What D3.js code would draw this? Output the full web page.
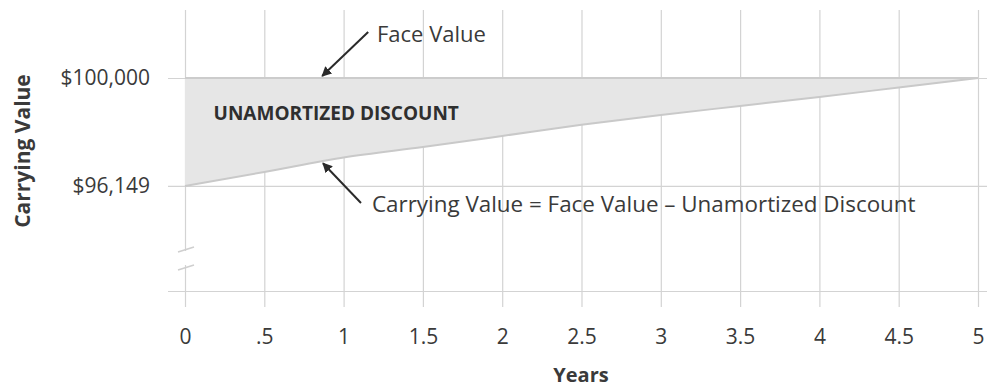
<!DOCTYPE html>
<html>
<head>
<meta charset="utf-8">
<script src="https://cdn.jsdelivr.net/npm/d3@7"></script>
<style>
  html, body { margin: 0; padding: 0; background: #fff; }
  svg { display: block; font-family: "Open Sans", "Noto Sans", sans-serif; }
</style>
</head>
<body>
<svg id="chart" width="987" height="389"></svg>
<script>
// Carrying value of the bond over its life (years, dollars)
const years = [0, 0.5, 1, 1.5, 2, 2.5, 3, 3.5, 4, 4.5, 5];
const faceValue = [100000, 100000, 100000, 100000, 100000, 100000, 100000, 100000, 100000, 100000, 100000];
const carryingValue = [96149, 96648, 97165, 97540, 97932, 98330, 98681, 99002, 99323, 99661, 100000];
const xTicks = [0, 0.5, 1, 1.5, 2, 2.5, 3, 3.5, 4, 4.5, 5];
const yTicks = [100000, 96149];
const axisFloor = 92400;   // value at the broken baseline

const svg = d3.select("#chart");
const W = 987;

const x = d3.scaleLinear().domain([0, 5]).range([185, 978]);
const y = d3.scaleLinear().domain([axisFloor, 100000]).range([291, 78]);

const gridColor = "#d3d3d3";
const textColor = "#3a3a3a";

// vertical grid + year labels
const xAxis = d3.axisBottom(x)
  .tickValues(xTicks)
  .tickSizeInner(-297)
  .tickSizeOuter(0)
  .tickPadding(22)
  .tickFormat(d => d === 0 ? "0" : (d < 1 ? d3.format(".1f")(d).replace(/^0/, "") : String(d)));

const gx = svg.append("g").attr("transform", "translate(0,307)").call(xAxis);
gx.select(".domain").remove();
gx.selectAll(".tick line").attr("stroke", gridColor).attr("stroke-width", 1.2);
gx.selectAll(".tick text")
  .attr("fill", textColor)
  .style("font-size", "21px")
  .style("font-family", "'Open Sans', sans-serif");

// horizontal grid + value labels
const yAxis = d3.axisLeft(y)
  .tickValues([...yTicks, axisFloor])
  .tickSizeInner(-(W - 168))
  .tickSizeOuter(0)
  .tickPadding(18)
  .tickFormat(d => d === axisFloor ? "" : d3.format("$,")(d));

const gy = svg.append("g").attr("transform", "translate(168,0)").call(yAxis);
gy.select(".domain").remove();
gy.selectAll(".tick line").attr("stroke", gridColor).attr("stroke-width", 1.2);
gy.selectAll(".tick text")
  .attr("fill", textColor)
  .style("font-size", "21px")
  .style("font-family", "'Open Sans', sans-serif");

// unamortized discount band between face value and carrying value
const rows = years.map((t, i) => ({ t, face: faceValue[i], carry: carryingValue[i] }));
const band = d3.area()
  .x(d => x(d.t))
  .y0(d => y(d.carry))
  .y1(d => y(d.face))
  .curve(d3.curveMonotoneX);

svg.append("path")
  .datum(rows)
  .attr("d", band)
  .attr("fill", "#e6e6e6")
  .attr("stroke", "none");

svg.append("path")
  .datum(rows)
  .attr("d", d3.line().x(d => x(d.t)).y(d => y(d.carry)).curve(d3.curveMonotoneX))
  .attr("fill", "none")
  .attr("stroke", "#c9c9c9")
  .attr("stroke-width", 2);

svg.append("path")
  .datum(rows)
  .attr("d", d3.line().x(d => x(d.t)).y(d => y(d.face)))
  .attr("fill", "none")
  .attr("stroke", "#cccccc")
  .attr("stroke-width", 2);

// axis break marks on the value axis
const bx = x(0);
svg.append("rect")
  .attr("x", bx - 3).attr("y", 251).attr("width", 6).attr("height", 14)
  .attr("fill", "#fff");
[250, 268].forEach(by => {
  svg.append("line")
    .attr("x1", bx - 7).attr("y1", by + 2)
    .attr("x2", bx + 9).attr("y2", by - 3)
    .attr("stroke", "#cfcfcf")
    .attr("stroke-width", 1.8);
});

// band label
svg.append("text")
  .attr("x", x(0.18)).attr("y", 120)
  .attr("fill", "#2f2f2f")
  .style("font-size", "19px")
  .style("font-weight", "700")
  .text("UNAMORTIZED DISCOUNT");

// annotations with arrows
svg.append("defs").append("marker")
  .attr("id", "arrow")
  .attr("viewBox", "0 0 10 10")
  .attr("refX", 9).attr("refY", 5)
  .attr("markerWidth", 5).attr("markerHeight", 5)
  .attr("orient", "auto")
  .append("path")
  .attr("d", "M0,0 L10,5 L0,10 Z")
  .attr("fill", "#2a2a2a");

const faceTipT = 0.865;
svg.append("line")
  .attr("x1", x(faceTipT) + 46).attr("y1", 32)
  .attr("x2", x(faceTipT)).attr("y2", y(100000) - 2)
  .attr("stroke", "#2a2a2a").attr("stroke-width", 2)
  .attr("marker-end", "url(#arrow)");
svg.append("text")
  .attr("x", 377).attr("y", 42)
  .attr("fill", textColor)
  .style("font-size", "22px")
  .text("Face Value");

const carryTipT = 0.87;
const carryAt = d3.scaleLinear().domain(years).range(carryingValue)(carryTipT);
svg.append("line")
  .attr("x1", x(carryTipT) + 38).attr("y1", 203)
  .attr("x2", x(carryTipT)).attr("y2", y(carryAt) + 2)
  .attr("stroke", "#2a2a2a").attr("stroke-width", 2)
  .attr("marker-end", "url(#arrow)");
svg.append("text")
  .attr("x", 372).attr("y", 212)
  .attr("fill", textColor)
  .style("font-size", "22.4px")
  .text("Carrying Value = Face Value \u2013 Unamortized Discount");

// axis titles
svg.append("text")
  .attr("x", 581).attr("y", 382)
  .attr("text-anchor", "middle")
  .attr("fill", textColor)
  .style("font-size", "20px")
  .style("font-weight", "700")
  .text("Years");

svg.append("text")
  .attr("transform", "translate(30,151) rotate(-90)")
  .attr("text-anchor", "middle")
  .attr("fill", textColor)
  .style("font-size", "21px")
  .style("font-weight", "700")
  .text("Carrying Value");
</script>
</body>
</html>
